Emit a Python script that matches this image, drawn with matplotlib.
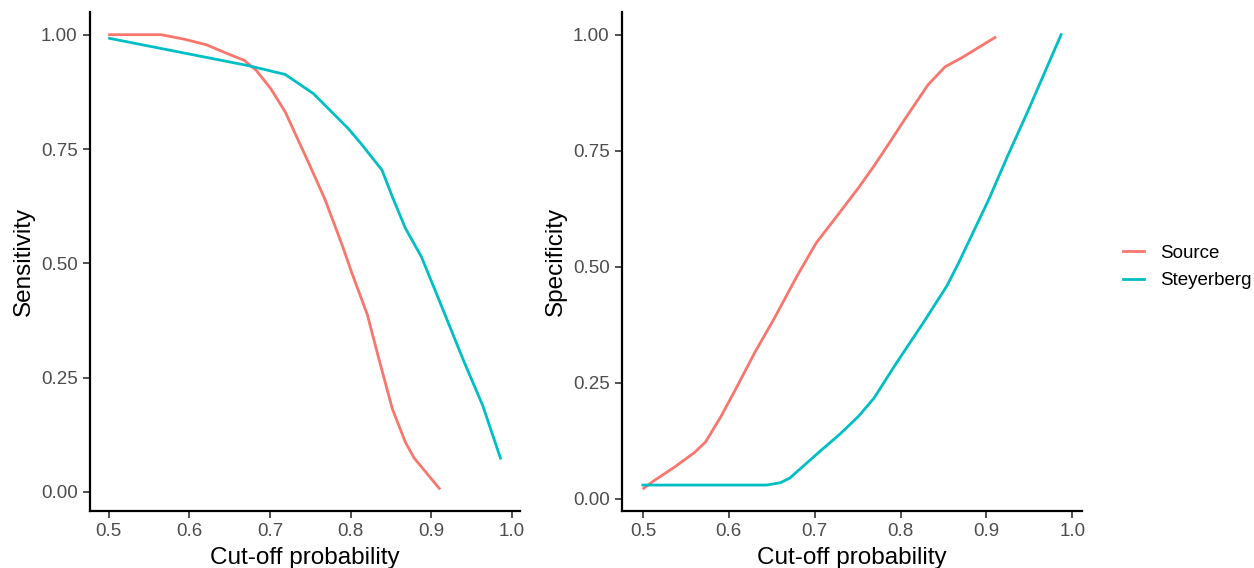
import matplotlib
matplotlib.use("Agg")
import matplotlib.pyplot as plt
from matplotlib.lines import Line2D

plt.rcParams['font.family'] = ['Liberation Sans', 'DejaVu Sans']

# Sensitivity panel
sens_src_x = [0.501, 0.565, 0.594, 0.621, 0.648, 0.668, 0.683, 0.701, 0.719, 0.750, 0.768,
              0.790, 0.801, 0.821, 0.835, 0.852, 0.868, 0.879, 0.910]
sens_src_y = [1.000, 1.000, 0.990, 0.978, 0.958, 0.944, 0.922, 0.882, 0.831, 0.712, 0.641,
              0.538, 0.482, 0.387, 0.292, 0.181, 0.109, 0.074, 0.008]
sens_ste_x = [0.501, 0.599, 0.674, 0.719, 0.754, 0.797, 0.812, 0.839, 0.852, 0.868, 0.888,
              0.910, 0.941, 0.964, 0.986]
sens_ste_y = [0.992, 0.958, 0.932, 0.913, 0.871, 0.795, 0.764, 0.704, 0.645, 0.577, 0.514,
              0.419, 0.284, 0.189, 0.074]

# Specificity panel
spec_src_x = [0.501, 0.511, 0.537, 0.560, 0.573, 0.591, 0.609, 0.631, 0.653, 0.680, 0.702,
              0.725, 0.751, 0.769, 0.787, 0.805, 0.832, 0.852, 0.872, 0.910]
spec_src_y = [0.023, 0.037, 0.069, 0.100, 0.123, 0.178, 0.240, 0.318, 0.389, 0.482, 0.552,
              0.607, 0.670, 0.717, 0.767, 0.818, 0.892, 0.931, 0.951, 0.994]
spec_ste_x = [0.500, 0.644, 0.660, 0.671, 0.707, 0.729, 0.751, 0.769, 0.796, 0.827, 0.854,
              0.867, 0.885, 0.903, 0.925, 0.948, 0.987]
spec_ste_y = [0.030, 0.030, 0.035, 0.045, 0.104, 0.139, 0.178, 0.217, 0.295, 0.381, 0.459,
              0.506, 0.576, 0.646, 0.740, 0.834, 1.000]

series_names = ["Source", "Steyerberg"]
colors = ["#F8766D", "#00BFC4"]
x_ticks = [0.5, 0.6, 0.7, 0.8, 0.9, 1.0]
x_ticklabels = ["0.5", "0.6", "0.7", "0.8", "0.9", "1.0"]
y_ticks = [0.0, 0.25, 0.5, 0.75, 1.0]
y_ticklabels = ["0.00", "0.25", "0.50", "0.75", "1.00"]

fig = plt.figure(figsize=(12.54, 5.68), dpi=100)
ax1 = fig.add_axes([90/1254, 1-511/568, (520-90)/1254, (511-12)/568])
ax2 = fig.add_axes([622/1254, 1-511/568, (1082-622)/1254, (511-12)/568])

panels = [
    (ax1, [(sens_src_x, sens_src_y), (sens_ste_x, sens_ste_y)], "Sensitivity"),
    (ax2, [(spec_src_x, spec_src_y), (spec_ste_x, spec_ste_y)], "Specificity"),
]

for ax, data, ylabel in panels:
    allx, ally = [], []
    for (xs, ys), c in zip(data, colors):
        ax.plot(xs, ys, color=c, lw=2.0, solid_joinstyle='round')
        allx += xs
        ally += ys
    xr = max(allx) - min(allx)
    yr = max(ally) - min(ally)
    ax.set_xlim(min(allx) - 0.05 * xr, max(allx) + 0.05 * xr)
    ax.set_ylim(min(ally) - 0.05 * yr, max(ally) + 0.05 * yr)
    ax.set_xticks(x_ticks)
    ax.set_xticklabels(x_ticklabels)
    ax.set_yticks(y_ticks)
    ax.set_yticklabels(y_ticklabels)
    for s in ['top', 'right']:
        ax.spines[s].set_visible(False)
    for s in ['left', 'bottom']:
        ax.spines[s].set_linewidth(1.6)
        ax.spines[s].set_color('black')
    ax.tick_params(axis='both', length=5, width=1.2, color='#333333',
                   labelsize=13.5, labelcolor='#4D4D4D', pad=4)
    ax.set_xlabel("Cut-off probability", fontsize=17.5, color='black', labelpad=5)
    ax.set_ylabel(ylabel, fontsize=17.5, color='black', labelpad=4)

handles = [Line2D([], [], color=c, lw=2.0) for c in colors]
fig.legend(handles, series_names, loc='center left', bbox_to_anchor=(1106/1254, 1-267/568),
           frameon=False, fontsize=13.5, handlelength=1.12, handletextpad=0.85,
           labelspacing=0.55)

fig.savefig("out.png", dpi=100)
